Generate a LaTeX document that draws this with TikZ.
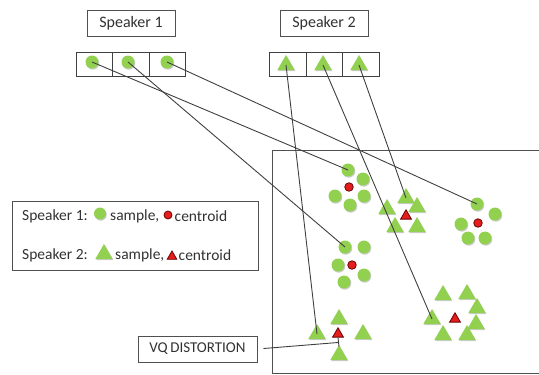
\documentclass[tikz,border=0pt]{standalone}
\usepackage{fontspec}
\setmainfont{Carlito}
\usetikzlibrary{shapes.geometric,shadows}
\definecolor{sgreen}{RGB}{146,208,80}
\definecolor{sred}{RGB}{228,30,30}
\definecolor{sdred}{RGB}{110,0,0}
\definecolor{txt}{RGB}{50,50,50}
\definecolor{frame}{RGB}{80,80,80}
\definecolor{conncol}{RGB}{64,64,64}
\tikzset{
  shd/.style={general shadow={fill=black!45, shadow xshift=0.8pt, shadow yshift=-1.2pt, opacity=0.45}},
  gdot/.style={circle, fill=sgreen, inner sep=0pt, minimum size=#1, shd},
  gdot/.default=13pt,
  rdot/.style={circle, fill=sred, draw=sdred, line width=0.8pt, inner sep=0pt, minimum size=#1},
  rdot/.default=8.5pt,
  gtri/.style={regular polygon, regular polygon sides=3, fill=sgreen, inner sep=0pt, minimum size=#1, shd},
  gtri/.default=20pt,
  rtri/.style={regular polygon, regular polygon sides=3, fill=sred, draw=sdred, line width=0.8pt, inner sep=0pt, minimum size=#1},
  rtri/.default=12.5pt,
  tbox/.style={draw=frame, line width=1pt, minimum height=26pt, text=txt, font=\fontsize{16}{18}\selectfont},
  cell/.style={draw=frame!80!black, line width=1pt, minimum width=36.5pt, minimum height=24pt, inner sep=0pt},
  conn/.style={draw=conncol, line width=0.9pt},
  lbl/.style={text=txt, font=\fontsize{15.5}{18}\selectfont, inner sep=0pt, anchor=west}
}
\begin{document}
\begin{tikzpicture}[x=1pt,y=-1pt]
\useasboundingbox (0,0) rectangle (539,375);
% titles
\node[tbox, minimum width=88pt] (sp1) at (131,23) {Speaker 1};
\node[tbox, minimum width=88pt] (sp2) at (324,23) {Speaker 2};
% cells
\node[cell] (c11) at (94.5,64) {};
\node[cell] (c12) at (131,64) {};
\node[cell] (c13) at (167.5,64) {};
\node[cell] (c21) at (288,64) {};
\node[cell] (c22) at (324.5,64) {};
\node[cell] (c23) at (361,64) {};
\node[gdot] (s11) at (92,62) {};
\node[gdot] (s12) at (128,62) {};
\node[gdot] (s13) at (167,62) {};
\node[gtri] (s21) at (286,65) {};
\node[gtri] (s22) at (323,65) {};
\node[gtri] (s23) at (359,65) {};
% main frame
\draw[draw=frame, line width=1pt] (539,150) -- (272,150) -- (272,373) -- (539,373);
% cluster A
\node[gdot] (a1) at (348,170) {};
\node[gdot] (a2) at (363,179) {};
\node[gdot] (a3) at (335,196) {};
\node[gdot] (a4) at (364,196) {};
\node[gdot] (a5) at (350,205) {};
\node[rdot] (a0) at (349,187) {};
% cluster B
\node[gtri] (b1) at (406,198) {};
\node[gtri] (b2) at (387,209) {};
\node[gtri] (b3) at (417,207) {};
\node[gtri] (b4) at (395,227) {};
\node[gtri] (b5) at (417,227) {};
\node[rtri] (b0) at (406,216) {};
% cluster C
\node[gdot] (c1) at (477,204) {};
\node[gdot] (c2) at (495,214) {};
\node[gdot] (c3) at (461,224) {};
\node[gdot] (c4) at (468,238) {};
\node[gdot] (c5) at (485,238) {};
\node[rdot] (c0) at (478,223) {};
% cluster D
\node[gdot] (d1) at (345,247) {};
\node[gdot] (d2) at (364,247) {};
\node[gdot] (d3) at (338,265) {};
\node[gdot] (d4) at (364,275) {};
\node[gdot] (d5) at (344,282) {};
\node[rdot] (d0) at (352,265) {};
% cluster E
\node[gtri] (e1) at (339,319) {};
\node[gtri] (e2) at (317,334) {};
\node[gtri] (e3) at (363,334) {};
\node[gtri] (e4) at (339,355) {};
\node[rtri] (e0) at (338,334) {};
% cluster F
\node[gtri] (f1) at (443,295) {};
\node[gtri] (f2) at (467,294) {};
\node[gtri] (f3) at (477,308) {};
\node[gtri] (f4) at (432,319) {};
\node[gtri] (f5) at (476,324) {};
\node[gtri] (f6) at (443,335) {};
\node[gtri] (f7) at (467,335) {};
\node[rtri] (f0) at (455,319) {};
% connectors
\draw[conn] (s11.center) -- (a1.center);
\draw[conn] (s12.center) -- (d1.center);
\draw[conn] (s13.center) -- (c1.center);
\draw[conn] (s21.center) -- (e2.center);
\draw[conn] (s22.center) -- (f4.center);
\draw[conn] (s23.center) -- (b1.center);
% legend
\node[draw=frame, line width=1pt, minimum width=246pt, minimum height=69pt] (leg) at (135,235.5) {};
\node[lbl] (l1) at (22,216) {Speaker 1:};
\node[gdot=12pt] (l1g) at (100,213.5) {};
\node[lbl] (l1s) at (110,216) {sample,};
\node[rdot=8pt] (l1r) at (168,215) {};
\node[lbl] (l1c) at (174.5,216) {centroid};
\node[lbl] (l2) at (22,255) {Speaker 2:};
\node[gtri=20pt] (l2g) at (104,254) {};
\node[lbl] (l2s) at (115,255) {sample,};
\node[rtri=11pt] (l2r) at (172,256.5) {};
\node[lbl] (l2c) at (178.5,255) {centroid};
% VQ distortion
\node[tbox, minimum width=119pt, font=\fontsize{15}{17}\selectfont] (vq) at (197.5,349) {VQ\,DISTORTION};
\coordinate (vqend) at (338,342.5);
\draw[conn, shorten <=6pt] (vq.east) -- (vqend);
\draw[conn] (e0.south) -- ([yshift=-2pt]e4.north);
\end{tikzpicture}
\end{document}
